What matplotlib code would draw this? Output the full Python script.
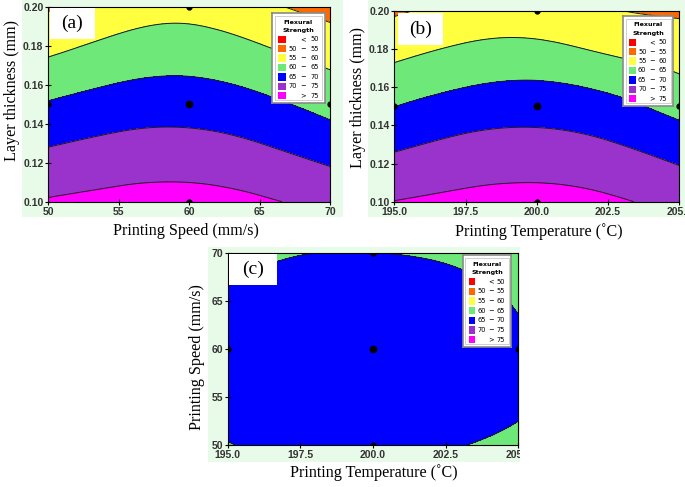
import matplotlib
matplotlib.use('Agg')
import matplotlib.pyplot as plt
import matplotlib.tri as mtri
from matplotlib.patches import Rectangle
from matplotlib.transforms import Bbox
import numpy as np

# read-off values of flexural strength (MPa) at a coarse grid of each panel
speed = [50, 55, 60, 65, 70]
temp = [195.0, 197.5, 200.0, 202.5, 205.0]
thick = [0.10, 0.12, 0.14, 0.16, 0.18, 0.20]

# (a) rows: layer thickness, cols: printing speed
fs_a = [[75.4, 76.4, 76.8, 75.6, 73.6],
        [71.6, 72.9, 73.2, 71.9, 69.6],
        [67.5, 69.2, 69.6, 68.1, 65.4],
        [63.2, 65.2, 65.8, 64.2, 61.5],
        [58.7, 61.2, 62.1, 60.2, 57.5],
        [54.5, 57.3, 58.3, 56.0, 53.3]]
# (b) rows: layer thickness, cols: printing temperature
fs_b = [[75.1, 76.2, 76.7, 75.7, 73.5],
        [71.2, 72.8, 73.3, 72.2, 69.8],
        [67.1, 69.2, 69.8, 68.5, 65.6],
        [62.8, 65.0, 65.8, 64.25, 61.3],
        [58.5, 60.7, 61.2, 59.3, 57.8],
        [54.4, 56.5, 56.7, 55.3, 54.3]]
# (c) rows: printing speed, cols: printing temperature
fs_c = [[64.85, 65.9, 66.0, 65.3, 64.1],
        [66.3, 67.7, 68.0, 67.0, 65.6],
        [66.3, 67.8, 68.2, 67.4, 65.6],
        [65.4, 66.8, 67.3, 66.5, 64.7],
        [63.8, 64.9, 65.05, 64.5, 63.3]]

# design points
pts_a = ([60, 50, 70, 60, 60], [0.15, 0.15, 0.15, 0.10, 0.20])
pts_b = ([200, 195, 205, 200, 200], [0.15, 0.15, 0.15, 0.10, 0.20])
pts_c = ([200, 195, 205, 200, 200], [60, 60, 60, 50, 70])

levels = [0, 50, 55, 60, 65, 70, 75, 200]
colors = ['#ff0000', '#ff6a00', '#ffff40', '#6ee878', '#0000ff', '#9933cc', '#ff00ff']
key_labels = [('', '<', '50'), ('50', '\u2212', '55'), ('55', '\u2212', '60'),
              ('60', '\u2212', '65'), ('65', '\u2212', '70'), ('70', '\u2212', '75'),
              ('', '>', '75')]

W, H = 685, 487
fig = plt.figure(figsize=(W / 100, H / 100), dpi=100)


def px_axes(l, t, r, b):
    return fig.add_axes([l / W, 1 - b / H, (r - l) / W, (b - t) / H])


def bg(l, t, r, b):
    fig.add_artist(Rectangle((l / W, 1 - b / H), (r - l) / W, (b - t) / H,
                             transform=fig.transFigure, color='#e8fae8', zorder=-5, lw=0))


def smooth_field(xs, ys, z):
    X, Y = np.meshgrid(xs, ys)
    x0, x1 = min(xs), max(xs)
    y0, y1 = min(ys), max(ys)
    tr = mtri.Triangulation(((X - x0) / (x1 - x0)).ravel(), ((Y - y0) / (y1 - y0)).ravel())
    interp = mtri.CubicTriInterpolator(tr, np.array(z).ravel(), kind='min_E')
    refiner = mtri.UniformTriRefiner(tr)
    tr_f, z_f = refiner.refine_field(np.array(z).ravel(), triinterpolator=interp, subdiv=4)
    tr_d = mtri.Triangulation(tr_f.x * (x1 - x0) + x0, tr_f.y * (y1 - y0) + y0, tr_f.triangles)
    return tr_d, z_f


def draw_key(l, t, r, b):
    k = px_axes(l, t, r, b)
    k.set_xlim(0, 1)
    k.set_ylim(1, 0)
    k.set_xticks([])
    k.set_yticks([])
    for s in k.spines.values():
        s.set_color('#8a8a8a')
        s.set_linewidth(1.2)
    k.add_patch(Rectangle((0.05, 0.03), 0.9, 0.94, fill=False, ec='#c8c8c8', lw=0.6))
    k.text(0.5, 0.1, 'Flexural', ha='center', va='center', fontsize=4.6, fontweight='bold')
    k.text(0.5, 0.19, 'Strength', ha='center', va='center', fontsize=4.6, fontweight='bold')
    for i, (lo, mid, hi) in enumerate(key_labels):
        yy = 0.29 + i * 0.105
        k.add_patch(Rectangle((0.12, yy - 0.04), 0.14, 0.08, color=colors[i], lw=0))
        k.text(0.47, yy, lo, ha='right', va='center', fontsize=4.8)
        k.text(0.58, yy, mid, ha='center', va='center', fontsize=4.8)
        k.text(0.88, yy, hi, ha='right', va='center', fontsize=4.8)


def panel(box, xs, ys, z, pts, xticks, xtl, yticks, ytl, xlabel, ylabel,
          xl_pos, yl_pos, tag, tag_box, key_box, clip_x=None):
    ax = px_axes(*box)
    tr, zf = smooth_field(xs, ys, z)
    ax.tricontourf(tr, zf, levels=levels, colors=colors)
    ax.tricontour(tr, zf, levels=levels[1:-1], colors='#1a1a1a', linewidths=0.7)
    ax.plot(pts[0][:1], pts[1][:1], 'o', color='black', ms=4.5, zorder=5)
    ax.plot(pts[0][1:], pts[1][1:], 'o', color='black', ms=3.5, clip_on=True, zorder=5)
    ax.set_xlim(min(xs), max(xs))
    ax.set_ylim(min(ys), max(ys))
    ax.set_xticks(xticks)
    ax.set_xticklabels(xtl)
    ax.set_yticks(yticks)
    ax.set_yticklabels(ytl)
    ax.tick_params(direction='inout', length=4, width=0.8, labelsize=7.5,
                   labelcolor='#333333', pad=1.5)
    for lab in ax.get_xticklabels() + ax.get_yticklabels():
        lab.set_fontweight('bold')
        lab.set_family('Liberation Sans')
    if clip_x is not None:
        cb = Bbox([[0, 0], [clip_x, H]])
        for lab in ax.get_xticklabels():
            lab.set_clip_box(cb)
            lab.set_clip_on(True)
    for s in ax.spines.values():
        s.set_linewidth(0.8)
    fig.text(xl_pos[0] / W, 1 - xl_pos[1] / H, xlabel, ha='center', va='center',
             fontsize=11.6, family='Liberation Serif')
    fig.text(yl_pos[0] / W, 1 - yl_pos[1] / H, ylabel, ha='center', va='center',
             fontsize=11.6, family='Liberation Serif', rotation=90)
    l, t, r, b = tag_box
    fig.add_artist(Rectangle((l / W, 1 - b / H), (r - l) / W, (b - t) / H,
                             transform=fig.transFigure, color='white', zorder=3, lw=0))
    fig.text((l + r) / 2 / W, 1 - (t + b) / 2 / H, tag, ha='center', va='center',
             fontsize=14, family='Liberation Serif', zorder=4)
    draw_key(*key_box)
    return ax


bg(22, 0, 343, 217)
bg(368, 0, 685, 217)
bg(208, 247, 520, 462)

thick_ticks = [0.10, 0.12, 0.14, 0.16, 0.18, 0.20]
thick_tl = ['%.2f' % v for v in thick_ticks]
temp_tl = ['%.1f' % v for v in temp]

panel((48.3, 6.7, 330, 201.7), speed, thick, fs_a, pts_a,
      speed, [str(v) for v in speed], thick_ticks, thick_tl,
      'Printing Speed (mm/s)', 'Layer thickness (mm)',
      (186, 231), (12, 91), '(a)', (50, 8, 95, 39), (272, 13, 325, 103))

panel((394.3, 11, 679.3, 201.7), temp, thick, fs_b, pts_b,
      temp, temp_tl, thick_ticks, thick_tl,
      'Printing Temperature (\u02daC)', 'Layer thickness (mm)',
      (539, 232), (358, 97), '(b)', (398, 13, 443, 45), (623, 16, 673, 106))

panel((227.7, 253.3, 518.3, 445), temp, speed, fs_c, pts_c,
      temp, temp_tl, speed, [str(v) for v in speed],
      'Printing Temperature (\u02daC)', 'Printing Speed (mm/s)',
      (374, 473), (197, 357), '(c)', (229, 254, 277, 285), (463, 255, 511, 347),
      clip_x=520)

fig.savefig('out.png', dpi=100)
